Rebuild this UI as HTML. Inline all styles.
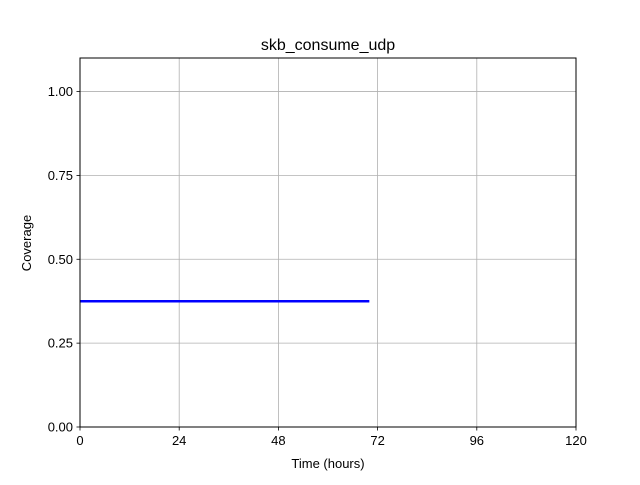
<!DOCTYPE html>
<html><head><meta charset="utf-8"><style>
body{margin:0;background:#fff;}
svg text{font-family:"Liberation Sans","DejaVu Sans",sans-serif;fill:#000;}
</style></head><body>
<svg id="chart" width="640" height="480" xmlns="http://www.w3.org/2000/svg">
<rect width="640" height="480" fill="#fff"/>
<text x="328" y="50" font-size="16" text-anchor="middle">skb_consume_udp</text>
<g id="grid"></g>
<g id="series"></g>
<rect x="80" y="58" width="496" height="369" fill="none" stroke="#000" stroke-width="1"/>
<g id="ticks"></g>
<text x="328" y="468" font-size="13" text-anchor="middle">Time (hours)</text>
<text transform="translate(31,243) rotate(-90)" font-size="13" text-anchor="middle">Coverage</text>
</svg>
<script>
const xTicks=[0,24,48,72,96,120];
const yTicks=[0,0.25,0.5,0.75,1.0];
const yTickLabels=["0.00","0.25","0.50","0.75","1.00"];
const seriesX=[0,70];
const seriesY=[0.375,0.375];
const L=80,R=576,T=58,B=427,xMax=120,yMax=1.1;
const sx=v=>L+(v/xMax)*(R-L), sy=v=>B-(v/yMax)*(B-T);
const NS="http://www.w3.org/2000/svg";
const grid=document.getElementById('grid'),ticks=document.getElementById('ticks'),series=document.getElementById('series');
function mk(tag,attrs,parent){const e=document.createElementNS(NS,tag);for(const k in attrs)e.setAttribute(k,attrs[k]);parent.appendChild(e);return e;}
xTicks.forEach(v=>{
 const x=sx(v);
 const g=mk('line',{x1:x,x2:x,y1:T,y2:B,stroke:'#b0b0b0','stroke-width':0.8},grid);
 
 
 const t=mk('line',{x1:x,x2:x,y1:B,y2:B+3.5,stroke:'#000','stroke-width':0.8},ticks);
 
 
 const l=mk('text',{x:x,y:B+18,'font-size':13,'text-anchor':'middle'},ticks);
 l.textContent=v;
 
 
});
yTicks.forEach((v,i)=>{
 const y=sy(v);
 const g=mk('line',{x1:L,x2:R,y1:y,y2:y,stroke:'#b0b0b0','stroke-width':0.8},grid);
 
 
 const t=mk('line',{x1:L-3.5,x2:L,y1:y,y2:y,stroke:'#000','stroke-width':0.8},ticks);
 
 
 const l=mk('text',{x:L-7,y:y+4.5,'font-size':13,'text-anchor':'end'},ticks);
 l.textContent=yTickLabels[i];
 
 
});
const pts=seriesX.map((x,i)=>sx(x)+','+sy(seriesY[i])).join(' ');
const pl=mk('polyline',{points:pts,fill:'none',stroke:'#0000ff','stroke-width':2.5},series);


</script>
</body></html>
